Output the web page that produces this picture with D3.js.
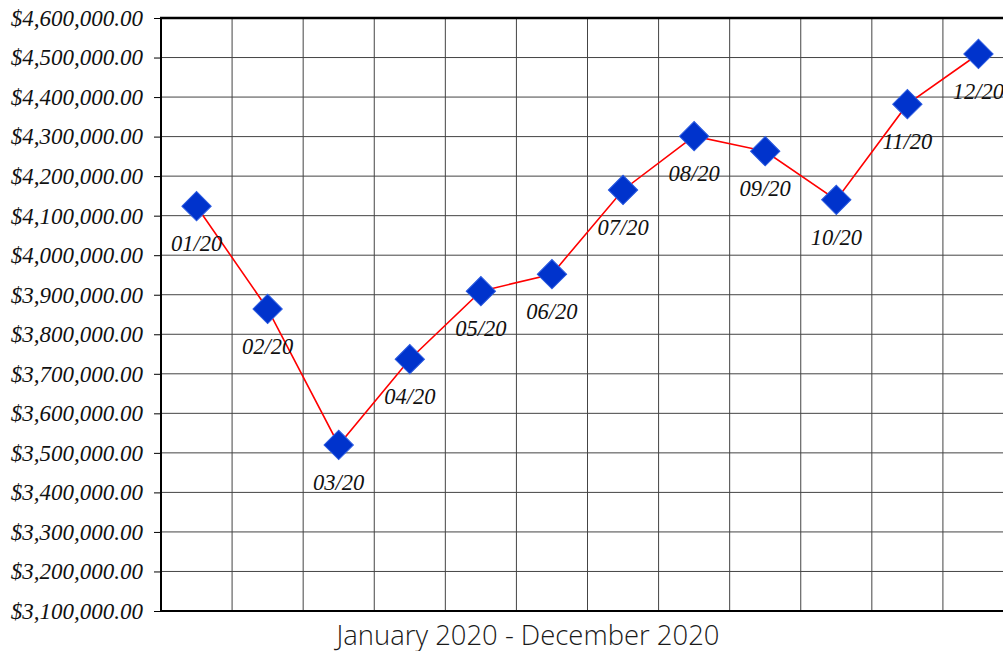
<!DOCTYPE html>
<html>
<head>
<meta charset="utf-8">
<script src="https://cdn.jsdelivr.net/npm/d3@7"></script>
<style>
  html, body { margin: 0; padding: 0; background: #fff; overflow: hidden; }
  svg { display: block; }
</style>
</head>
<body>
<svg id="chart" width="1003" height="651"></svg>
<script>
// ---- data ----
const months = ["01/20","02/20","03/20","04/20","05/20","06/20","07/20","08/20","09/20","10/20","11/20","12/20"];
const values = [4124000, 3864000, 3520000, 3737000, 3909000, 3952000, 4165000, 4301000, 4263000, 4140000, 4382000, 4509000];
const yTicks = [3100000, 3200000, 3300000, 3400000, 3500000, 3600000, 3700000, 3800000, 3900000, 4000000, 4100000, 4200000, 4300000, 4400000, 4500000, 4600000];
const axisTitle = "January 2020 - December 2020";

// ---- layout ----
const svg = d3.select("#chart");
const pLeft = 161, pRight = 1014, pTop = 18, pBottom = 611;

const x = d3.scaleBand().domain(months).range([pLeft, pRight]).padding(0);
const y = d3.scaleLinear().domain([3100000, 4600000]).range([pBottom, pTop]);

const fmt = v => "$" + d3.format(",.2f")(v);

// horizontal grid
svg.append("g").selectAll("line").data(yTicks).join("line")
  .attr("x1", pLeft).attr("x2", pRight)
  .attr("y1", d => y(d)).attr("y2", d => y(d))
  .attr("stroke", "#444").attr("stroke-width", 1);

// vertical grid (column boundaries)
const bounds = months.slice(1).map(m => x(m));
svg.append("g").selectAll("line").data(bounds).join("line")
  .attr("x1", d => d).attr("x2", d => d)
  .attr("y1", pTop).attr("y2", pBottom)
  .attr("stroke", "#444").attr("stroke-width", 1);

// y axis
const yAxis = d3.axisLeft(y).tickValues(yTicks).tickFormat(fmt).tickSize(7).tickPadding(11);
const gy = svg.append("g").attr("transform", `translate(${pLeft},0)`).call(yAxis);
gy.select(".domain").remove();
gy.selectAll(".tick line").attr("stroke", "#000").attr("stroke-width", 1);
gy.selectAll(".tick text")
  .attr("font-family", "'Liberation Serif', 'Times New Roman', serif")
  .attr("font-style", "italic")
  .attr("font-size", 23)
  .attr("fill", "#111");

// frame lines
svg.append("line").attr("x1", pLeft).attr("x2", pLeft).attr("y1", pTop - 1).attr("y2", pBottom + 1)
  .attr("stroke", "#000").attr("stroke-width", 2);
svg.append("line").attr("x1", pLeft - 1).attr("x2", pRight).attr("y1", pBottom).attr("y2", pBottom)
  .attr("stroke", "#000").attr("stroke-width", 2);
svg.append("line").attr("x1", pLeft - 1).attr("x2", pRight).attr("y1", pTop).attr("y2", pTop)
  .attr("stroke", "#000").attr("stroke-width", 2.5);

const data = months.map((m, i) => ({ m, v: values[i] }));
const cx = d => x(d.m) + x.bandwidth() / 2;

// line
svg.append("path").datum(data)
  .attr("d", d3.line().x(cx).y(d => y(d.v)))
  .attr("fill", "none").attr("stroke", "#ff0000").attr("stroke-width", 1.6);

// markers
const sym = d3.symbol(d3.symbolSquare, 430);
svg.append("g").selectAll("path").data(data).join("path")
  .attr("d", sym)
  .attr("transform", d => `translate(${cx(d)},${y(d.v)}) rotate(45)`)
  .attr("fill", "#0033cc").attr("stroke", "#2a5ae0").attr("stroke-width", 1);

// point labels
svg.append("g").selectAll("text").data(data).join("text")
  .attr("x", cx).attr("y", d => y(d.v) + 45)
  .attr("text-anchor", "middle")
  .attr("font-family", "'Liberation Serif', 'Times New Roman', serif")
  .attr("font-style", "italic")
  .attr("font-size", 22.5)
  .attr("fill", "#111")
  .text(d => d.m);

// x axis title
svg.append("text")
  .attr("x", 528).attr("y", 645)
  .attr("text-anchor", "middle")
  .attr("font-family", "'Open Sans', 'Noto Sans', sans-serif")
  .attr("font-size", 28)
  .attr("font-weight", 300)
  .attr("textLength", 383)
  .attr("lengthAdjust", "spacingAndGlyphs")
  .attr("fill", "#1a1a1a")
  .text(axisTitle);
</script>
</body>
</html>
